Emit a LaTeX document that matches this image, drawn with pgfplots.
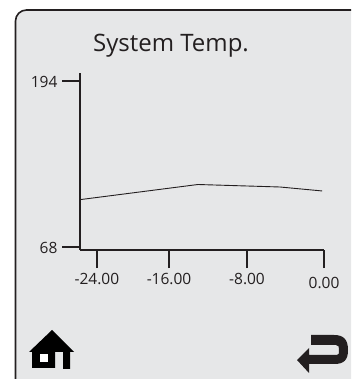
\documentclass[border=0pt]{standalone}
\usepackage{pgfplots}
\pgfplotsset{compat=1.18}
\usepackage{fontspec}
\setmainfont{Open Sans}
\definecolor{ink}{HTML}{231F20}
\definecolor{panel}{HTML}{E6E7E8}
\begin{document}
\begin{tikzpicture}[x=1pt,y=1pt]
\path[use as bounding box] (0,0) rectangle (351,379);
\begin{scope}
\clip (0,0) rectangle (351,379);
\draw[ink,line width=1.6pt,fill=panel,rounded corners=11pt] (15.5,-20) rectangle (380,369);
\end{scope}
\begin{axis}[
  at={(80pt,129pt)}, anchor=south west,
  scale only axis, width=244pt, height=177pt,
  xmin=-25.35, xmax=0, ymin=65.7, ymax=200,
  axis x line*=bottom, axis y line*=left,
  axis line style={ink,line width=1.8pt,-},
  every tick/.style={ink,line width=1.8pt},
  tick align=outside, major tick length=18pt,
  xtick={-23.6,-16.1,-8,0},
  xticklabels={-24.00,-16.00,-8.00,\raisebox{-2pt}[13pt][0pt]{0.00}},
  ytick={68,194}, yticklabels={68\hspace{2pt},194},
  tick label style={font=\fontsize{15.5}{18}\selectfont,text=ink},
  xticklabel style={yshift=-2pt},
  yticklabel style={xshift=-1pt,yshift=-1pt},
  title={System Temp.},
  title style={at={(0.373,1.118)},anchor=center,font=\fontsize{24}{28}\selectfont,text=ink},
  clip=false,
]
\addplot[ink,line width=0.9pt] coordinates {(-25.25,104) (-13.1,115.4) (-4.57,113.5) (-0.2,110.5)};
\end{axis}
\begin{scope}[shift={(0,379)},y=-1pt]
% home icon
\fill[black] (52,330) -- (29,352) -- (32,352) -- (32,368) -- (55,368) -- (55,352) -- (63,352) -- (63,369) -- (70,369) -- (70,352) -- (74,352) -- cycle;
\fill[white] (40,354) rectangle (48,362);
% return icon
\fill[ink] (297,360) -- (309,348) -- (309,355) -- (337,355)
  .. controls (339,355) and (339,353) .. (339,350)
  .. controls (339,347) and (339,345) .. (336,345)
  -- (311,345) -- (311,335) -- (334,335)
  .. controls (344,335) and (348,340) .. (348,350)
  .. controls (348,360) and (344,364) .. (334,364)
  -- (309,364) -- (309,373) -- cycle;
\end{scope}
\end{tikzpicture}
\end{document}
